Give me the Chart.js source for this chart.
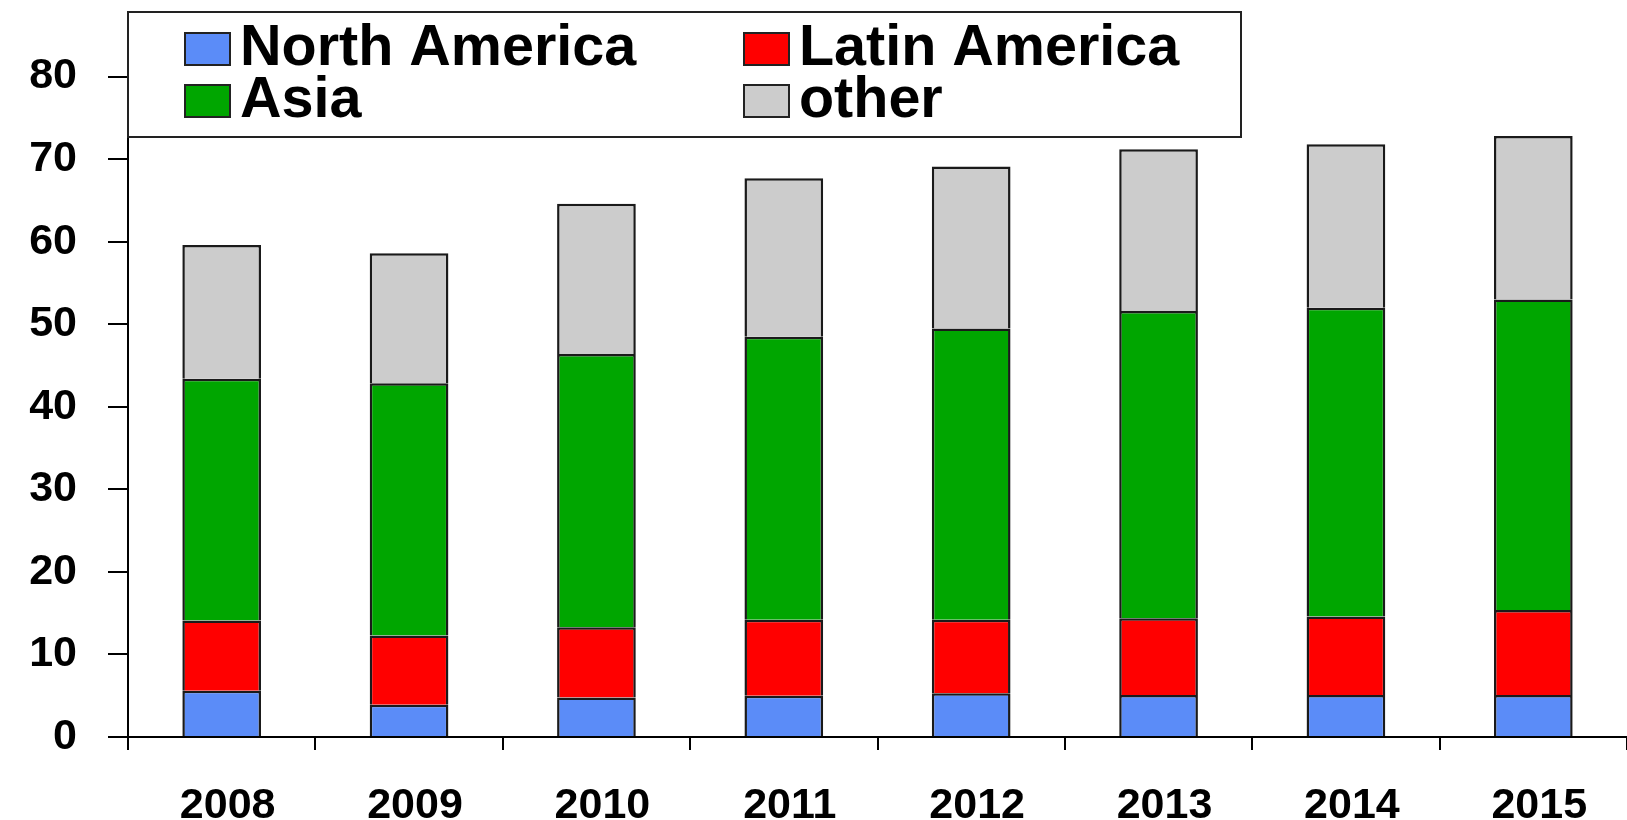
<!DOCTYPE html>
<html>
<head>
<meta charset="utf-8">
<script src="https://cdn.jsdelivr.net/npm/chart.js@4.4.1/dist/chart.umd.min.js"></script>
<style>
  html, body { margin: 0; padding: 0; background: #fff; }
  #wrap { width: 1627px; height: 820px; position: relative; }
</style>
</head>
<body>
<div id="wrap"><canvas id="myChart"></canvas></div>
<script>
// data
var years = ["2008", "2009", "2010", "2011", "2012", "2013", "2014", "2015"];
var northAmerica = [5.6, 3.9, 4.8, 5.0, 5.3, 5.1, 5.1, 5.1];
var latinAmerica = [8.5, 8.4, 8.5, 9.2, 8.9, 9.3, 9.5, 10.3];
var asia = [29.3, 30.55, 33.1, 34.3, 35.3, 37.2, 37.4, 37.6];
var other = [16.2, 15.75, 18.2, 19.2, 19.6, 19.6, 19.8, 19.8];
var yTicks = [0, 10, 20, 30, 40, 50, 60, 70, 80];

var FONT = "'Liberation Sans', Arial, sans-serif";

// legend drawn as a boxed 2x2 grid like the original
var boxLegend = {
  id: "boxLegend",
  afterDraw: function (chart) {
    var c = chart.ctx;
    var ds = chart.data.datasets;
    c.save();
    c.fillStyle = "#fff";
    c.fillRect(128, 12, 1113, 125);
    c.strokeStyle = "#222";
    c.lineWidth = 2;
    c.strokeRect(128, 12, 1113, 125);

    var cols = [185, 744];
    var rows = [33, 85];
    c.font = "bold 57.5px " + FONT;
    c.textBaseline = "alphabetic";
    for (var i = 0; i < ds.length; i++) {
      var x = cols[i % 2];
      var y = rows[Math.floor(i / 2)];
      c.fillStyle = ds[i].backgroundColor;
      c.fillRect(x, y, 45, 32);
      c.strokeStyle = "#222";
      c.lineWidth = 2;
      c.strokeRect(x, y, 45, 32);
      c.fillStyle = "#000";
      c.fillText(ds[i].label, x + 55, y + 32);
    }
    c.restore();
  }
};

var ctx = document.getElementById("myChart").getContext("2d");
var myChart = new Chart(ctx, {
  type: "bar",
  data: {
    labels: years,
    datasets: [
      { label: "North America", data: northAmerica, backgroundColor: "#5b8cf8" },
      { label: "Latin America", data: latinAmerica, backgroundColor: "#ff0000" },
      { label: "Asia", data: asia, backgroundColor: "#00a600" },
      { label: "other", data: other, backgroundColor: "#cccccc" },
    ].map(function (d) {
      d.borderColor = "#1a1a1a";
      d.borderWidth = 2.5;
      d.borderSkipped = "start";
      d.barPercentage = 0.42;
      d.categoryPercentage = 1;
      return d;
    }),
  },
  options: {
    responsive: true,
    maintainAspectRatio: false,
    animation: false,
    layout: { padding: { top: 9, right: 0, left: 0, bottom: 0 } },
    plugins: {
      legend: { display: false },
      tooltip: { enabled: false },
    },
    scales: {
      x: {
        stacked: true,
        grid: {
          offset: true,
          drawOnChartArea: false,
          drawTicks: true,
          tickLength: 13,
          color: "#000",
          lineWidth: 2,
        },
        border: { color: "#000", width: 2 },
        ticks: {
          color: "#000",
          padding: 30,
          font: { family: FONT, size: 43, weight: "bold" },
          // labels sit a little right of the bar centres in the original
          callback: function (v) { return " " + this.getLabelForValue(v); },
        },
        afterFit: function (s) { s.height = 83; },
      },
      y: {
        stacked: true,
        min: 0,
        max: 82.4,
        afterBuildTicks: function (s) {
          s.ticks = yTicks.map(function (v) { return { value: v }; });
        },
        grid: {
          drawOnChartArea: false,
          drawTicks: true,
          tickLength: 20,
          color: "#000",
          lineWidth: 2,
        },
        border: { color: "#000", width: 2 },
        ticks: {
          color: "#000",
          padding: 31,
          font: { family: FONT, size: 43, weight: "bold" },
        },
        afterFit: function (s) { s.width = 128; },
      },
    },
  },
  plugins: [boxLegend],
});
</script>
</body>
</html>
